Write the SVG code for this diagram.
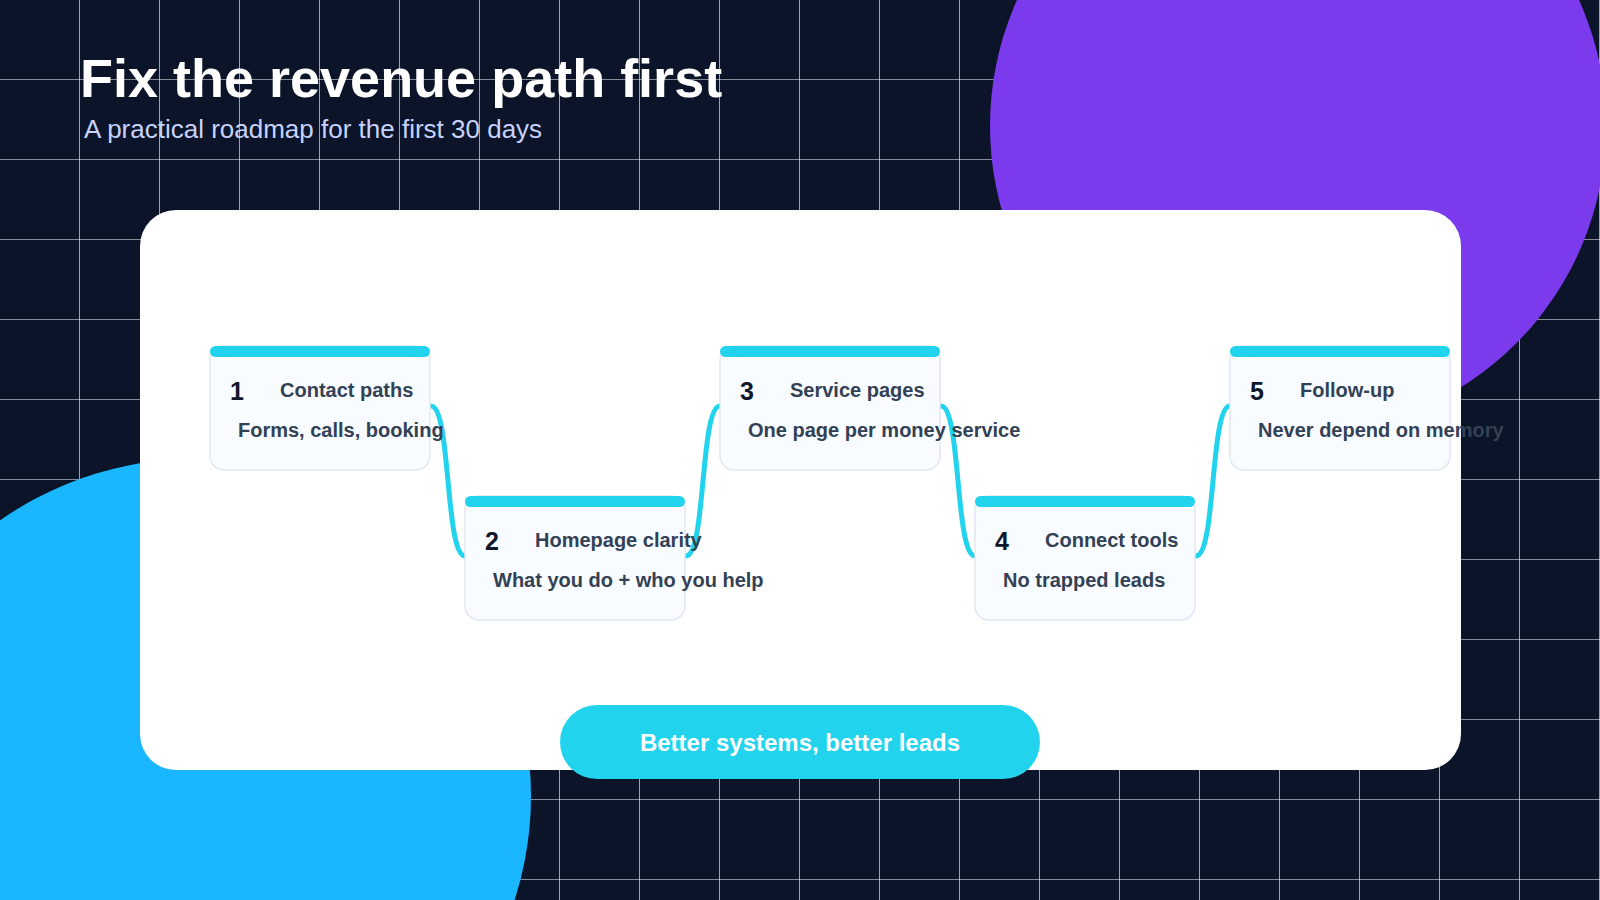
<svg xmlns="http://www.w3.org/2000/svg" width="1600" height="900" viewBox="0 0 1600 900">
<defs>
<pattern id="grid" width="80" height="80" patternUnits="userSpaceOnUse"><path d="M80 0V80M0 80H80" fill="none" stroke="#ffffff" stroke-width="1.2"/></pattern>
<style>
.node rect.box{fill:#f8fbff;stroke:#e2e8f0;stroke-width:1.5}
.bar{fill:#22d3ee}
.num{font:700 25px "Liberation Sans",Arial,sans-serif;fill:#0f172a}
.ttl{font:700 20px "Liberation Sans",Arial,sans-serif;fill:#334155}
.sub{font:700 20px "Liberation Sans",Arial,sans-serif;fill:#334155}
.con path{fill:none;stroke:#22d3ee;stroke-width:5;stroke-linecap:round}
</style>
</defs>
<rect width="1600" height="900" fill="#0b1428"/>
<rect width="1600" height="900" fill="url(#grid)"/>
<circle cx="1298" cy="126" r="308" fill="#7c3aed"/>
<circle cx="194" cy="796" r="337" fill="#1ab6ff"/>
<text x="80" y="97" font-family="Liberation Sans, Arial, sans-serif" font-weight="700" font-size="54" fill="#ffffff">Fix the revenue path first</text>
<text x="84" y="138" font-family="Liberation Sans, Arial, sans-serif" font-size="26" fill="#c7d2fe">A practical roadmap for the first 30 days</text>
<rect x="140" y="210" width="1321" height="560" rx="36" fill="#ffffff"/>
<g class="con">
<path d="M431 406 C451 406 445 556 465 556"/>
<path d="M686 556 C706 556 700 406 720 406"/>
<path d="M941 406 C961 406 955 556 975 556"/>
<path d="M1196 556 C1216 556 1210 406 1230 406"/>
</g>
<g id="n1" class="node"><rect class="box" x="210" y="346" width="220" height="124" rx="14"/><rect class="bar" x="210" y="346" width="220" height="11" rx="5.5"/><text class="num" x="230" y="400">1</text><text class="ttl" x="280" y="397">Contact paths</text><text class="sub" x="238" y="437">Forms, calls, booking</text></g>
<g id="n2" class="node"><rect class="box" x="465" y="496" width="220" height="124" rx="14"/><rect class="bar" x="465" y="496" width="220" height="11" rx="5.5"/><text class="num" x="485" y="550">2</text><text class="ttl" x="535" y="547">Homepage clarity</text><text class="sub" x="493" y="587">What you do + who you help</text></g>
<g id="n3" class="node"><rect class="box" x="720" y="346" width="220" height="124" rx="14"/><rect class="bar" x="720" y="346" width="220" height="11" rx="5.5"/><text class="num" x="740" y="400">3</text><text class="ttl" x="790" y="397">Service pages</text><text class="sub" x="748" y="437">One page per money service</text></g>
<g id="n4" class="node"><rect class="box" x="975" y="496" width="220" height="124" rx="14"/><rect class="bar" x="975" y="496" width="220" height="11" rx="5.5"/><text class="num" x="995" y="550">4</text><text class="ttl" x="1045" y="547">Connect tools</text><text class="sub" x="1003" y="587">No trapped leads</text></g>
<g id="n5" class="node"><rect class="box" x="1230" y="346" width="220" height="124" rx="14"/><rect class="bar" x="1230" y="346" width="220" height="11" rx="5.5"/><text class="num" x="1250" y="400">5</text><text class="ttl" x="1300" y="397">Follow-up</text><text class="sub" x="1258" y="437">Never depend on memory</text></g>
<g id="cta"><rect x="560" y="705" width="480" height="74" rx="37" fill="#22d3ee"/><text x="800" y="751" text-anchor="middle" font-family="Liberation Sans, Arial, sans-serif" font-weight="700" font-size="24" fill="#ffffff">Better systems, better leads</text></g>
</svg>
